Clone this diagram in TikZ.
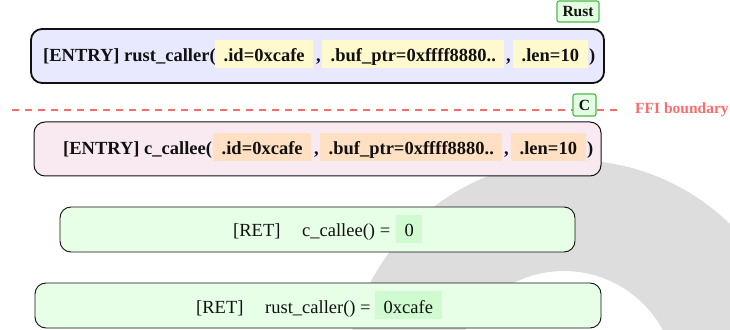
\documentclass[tikz,border=0pt]{standalone}
\usepackage{fontspec}
\setmainfont{Liberation Serif}
\newcommand\fsmain{\fontsize{18.5}{22}\selectfont}
\newcommand\fstag{\fontsize{15.5}{18}\selectfont}
\definecolor{txt}{HTML}{111111}
\definecolor{wmgray}{HTML}{DDDDDD}
\definecolor{rustfill}{HTML}{E8E8FF}
\definecolor{cfill}{HTML}{F9EAF1}
\definecolor{retfill}{HTML}{E6FFE6}
\definecolor{chipyel}{HTML}{FFFACD}
\definecolor{chippeach}{HTML}{FFE0C2}
\definecolor{chipgreen}{HTML}{D0FAD0}
\definecolor{taggreen}{HTML}{4CB84C}
\definecolor{tagfill}{HTML}{E2FFE2}
\definecolor{ffired}{HTML}{FF6B6B}
\begin{document}
\begin{tikzpicture}[x=1pt,y=1pt,
  box/.style={draw=txt, rounded corners=11pt, inner sep=0pt},
  entrybox/.style={box, minimum height=54pt},
  retbox/.style={box, fill=retfill, line width=0.9pt, minimum height=45pt},
  lbl/.style={anchor=base west, inner sep=0pt, text=txt, font=\fsmain\bfseries},
  rlbl/.style={anchor=base west, inner sep=0pt, text=txt, font=\fsmain},
  chip/.style={anchor=base west, inner xsep=8.5pt, inner ysep=0pt, text height=22pt, text depth=6pt, text=txt, font=\fsmain\bfseries},
  rchip/.style={chip, fill=chipgreen, font=\fsmain},
  tag/.style={draw=taggreen, fill=tagfill, line width=1.1pt, rounded corners=2pt, inner sep=0pt, text=txt, font=\fstag\bfseries},
  ffiline/.style={draw=ffired, line width=1.5pt, dash pattern=on 7pt off 6pt},
  ffitext/.style={text=ffired, font=\fstag\bfseries, inner sep=0pt}
]
\useasboundingbox (0,0) rectangle (730,329);
% watermark
\begin{scope}
  \clip (0,0) rectangle (730,329);
  \fill[wmgray, even odd rule] (572,-58) circle (227pt) (564,-54) circle (112pt);
\end{scope}

% Rust entry
\node[entrybox, fill=rustfill, line width=1.8pt, minimum width=573pt] (rustbox) at (317.5,273) {};
\node[lbl] (rustlbl) at (43,267) {[ENTRY] rust\_caller(};
\node[chip, fill=chipyel] (r1) at (215,267) {.id=0xcafe};
\node[lbl] (rc1) at (316,267) {,};
\node[chip, fill=chipyel] (r2) at (322,267) {.buf\_ptr=0xffff8880..};
\node[lbl] (rc2) at (506,267) {,};
\node[chip, fill=chipyel] (r3) at (513,267) {.len=10};
\node[lbl] (rclose) at (589,267) {)};
\node[tag, minimum width=42pt, minimum height=21pt] (rusttag) at (578,317.5) {Rust};

% FFI boundary
\coordinate (ffiL) at (12,219);
\coordinate (ffiR) at (623,219);
\draw[ffiline] (ffiL) -- (ffiR);
\node[ffitext, anchor=west] (ffi) at (635,219) {FFI boundary};
\node[tag, minimum width=23pt, minimum height=22pt] (ctag) at (584.5,224) {C};

% C entry
\node[entrybox, fill=cfill, line width=1pt, minimum width=567pt] (cbox) at (317.5,180) {};
\node[lbl] (clbl) at (63,174) {[ENTRY] c\_callee(};
\node[chip, fill=chippeach] (c1) at (213,174) {.id=0xcafe};
\node[lbl] (cc1) at (314,174) {,};
\node[chip, fill=chippeach] (c2) at (320,174) {.buf\_ptr=0xffff8880..};
\node[lbl] (cc2) at (504,174) {,};
\node[chip, fill=chippeach] (c3) at (511,174) {.len=10};
\node[lbl] (cclose) at (587,174) {)};

% RET c_callee
\node[retbox, minimum width=515pt] (cret) at (317.5,99.5) {};
\node[rlbl] (cretl) at (233,92) {[RET]};
\node[rlbl] (cretf) at (302,92) {c\_callee() =};
\node[rchip] (cretv) at (396,92) {0};

% RET rust_caller
\node[retbox, minimum width=566pt] (rret) at (318,23.5) {};
\node[rlbl] (rretl) at (196,16) {[RET]};
\node[rlbl] (rretf) at (265,16) {rust\_caller() =};
\node[rchip] (rretv) at (375,16) {0xcafe};
\end{tikzpicture}
\end{document}
